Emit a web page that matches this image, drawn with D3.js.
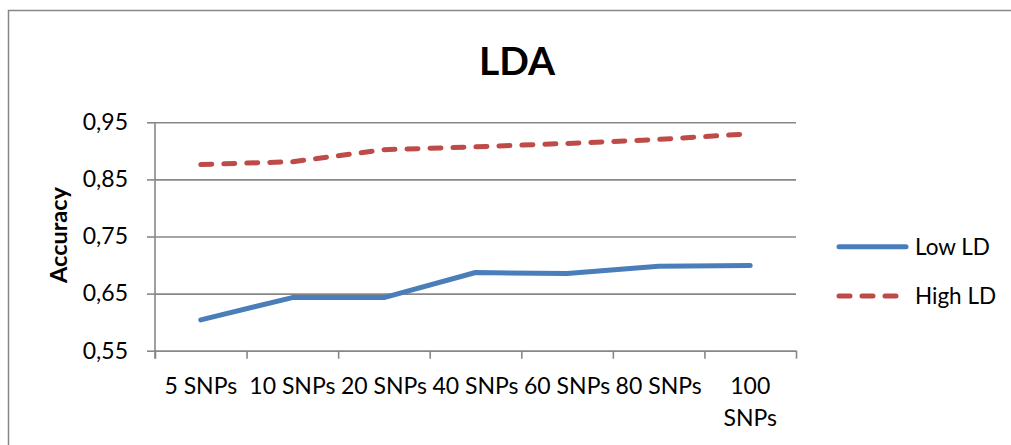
<!DOCTYPE html>
<html>
<head>
<meta charset="utf-8">
<script src="https://cdn.jsdelivr.net/npm/d3@7"></script>
<style>
  html, body { margin: 0; padding: 0; background: #fff; }
  svg { display: block; }
  text { font-family: Lato, "Open Sans", sans-serif; fill: #000; }
</style>
</head>
<body>
<svg id="chart" width="1011" height="445"></svg>
<script>
// Categories along the x axis
const categories = ["5 SNPs", "10 SNPs", "20 SNPs", "40 SNPs", "60 SNPs", "80 SNPs", "100 SNPs"];
// Accuracy of LDA per number of SNPs
const lowLD  = [0.604, 0.643, 0.643, 0.687, 0.685, 0.698, 0.699];
const highLD = [0.876, 0.881, 0.902, 0.907, 0.913, 0.920, 0.930];
const yTicks = [0.55, 0.65, 0.75, 0.85, 0.95];
const seriesNames = ["Low LD", "High LD"];

const svg = d3.select("#chart");
const plot = { left: 155, right: 796, top: 122.3, bottom: 350.7 };
const gridColor = "#878787";

// Outer chart frame
svg.append("rect")
  .attr("x", 8.5).attr("y", 10.5)
  .attr("width", 1100).attr("height", 600)
  .attr("fill", "none").attr("stroke", gridColor).attr("stroke-width", 1.5);

const x = d3.scaleBand().domain(categories).range([plot.left, plot.right]);
const xEdges = d3.scaleLinear().domain([0, categories.length]).range([plot.left, plot.right]);
const y = d3.scaleLinear().domain([0.55, 0.95]).range([plot.bottom, plot.top]);

// Horizontal gridlines
svg.append("g")
  .attr("transform", `translate(${plot.left},0)`)
  .call(d3.axisLeft(y).tickValues(yTicks).tickSize(-(plot.right - plot.left)).tickFormat(""))
  .call(g => g.select(".domain").remove())
  .call(g => g.selectAll("line").attr("stroke", gridColor).attr("stroke-width", 1.6));

// Y axis with tick labels
svg.append("g")
  .attr("transform", `translate(${plot.left},0)`)
  .call(d3.axisLeft(y).tickValues(yTicks).tickSize(8).tickPadding(19)
    .tickFormat(d => d.toFixed(2).replace(".", ",")))
  .call(g => g.select(".domain").attr("d", `M0,${plot.top}V${plot.bottom + 8}`)
    .attr("stroke", gridColor).attr("stroke-width", 1.6))
  .call(g => g.selectAll("line").attr("stroke", gridColor).attr("stroke-width", 1.6))
  .call(g => g.selectAll("text").attr("font-size", 23).attr("font-family", "Lato").attr("fill", "#000"));

// X axis line and category boundary ticks
svg.append("g")
  .attr("transform", `translate(0,${plot.bottom})`)
  .call(d3.axisBottom(xEdges).tickValues(d3.range(categories.length + 1)).tickSize(8).tickSizeOuter(0).tickFormat(""))
  .call(g => g.select(".domain").attr("stroke", gridColor).attr("stroke-width", 1.6))
  .call(g => g.selectAll("line").attr("stroke", gridColor).attr("stroke-width", 1.6));

// Category labels (wrapped onto two lines when they do not fit)
const xLabels = svg.append("g")
  .attr("transform", `translate(0,${plot.bottom})`)
  .call(d3.axisBottom(x).tickSize(0).tickPadding(27))
  .call(g => g.select(".domain").remove());
xLabels.selectAll("text")
  .attr("font-size", 23).attr("font-family", "Lato").attr("fill", "#000")
  .each(function(d) {
    const t = d3.select(this);
    if (d === categories[categories.length - 1]) {
      const parts = d.split(" ");
      t.text(null);
      parts.forEach((p, i) => {
        t.append("tspan").attr("x", 0).attr("dy", i === 0 ? "0.71em" : "1.4em").text(p);
      });
      t.attr("dy", null);
    }
  });

// Lines
const line = d3.line()
  .x((d, i) => x(categories[i]) + x.bandwidth() / 2)
  .y(d => y(d));

svg.append("path").datum(lowLD)
  .attr("d", line)
  .attr("fill", "none").attr("stroke", "#4a7ebb").attr("stroke-width", 5)
  .attr("stroke-linecap", "round").attr("stroke-linejoin", "round");

svg.append("path").datum(highLD)
  .attr("d", line)
  .attr("fill", "none").attr("stroke", "#be4b48").attr("stroke-width", 5)
  .attr("stroke-dasharray", "11,12")
  .attr("stroke-linecap", "round").attr("stroke-linejoin", "round");

// Title
svg.append("text")
  .attr("x", 517).attr("y", 75)
  .attr("text-anchor", "middle")
  .attr("font-size", 39).attr("font-weight", "bold")
  .text("LDA");

// Y axis title
svg.append("text")
  .attr("transform", "translate(67,235) rotate(-90)")
  .attr("text-anchor", "middle")
  .attr("font-size", 23.5).attr("font-weight", "bold")
  .text("Accuracy");

// Legend
const legend = svg.append("g");
const legendItems = [
  { name: seriesNames[0], color: "#4a7ebb", dash: null, y: 246.7 },
  { name: seriesNames[1], color: "#be4b48", dash: "11,12", y: 296 }
];
legendItems.forEach(item => {
  legend.append("line")
    .attr("x1", 839).attr("x2", item.dash ? 897 : 906)
    .attr("y1", item.y).attr("y2", item.y)
    .attr("stroke", item.color).attr("stroke-width", 5)
    .attr("stroke-linecap", "round")
    .attr("stroke-dasharray", item.dash);
  legend.append("text")
    .attr("x", 915).attr("y", item.y)
    .attr("dy", "0.36em")
    .attr("font-size", 22.5)
    .text(item.name);
});
</script>
</body>
</html>
